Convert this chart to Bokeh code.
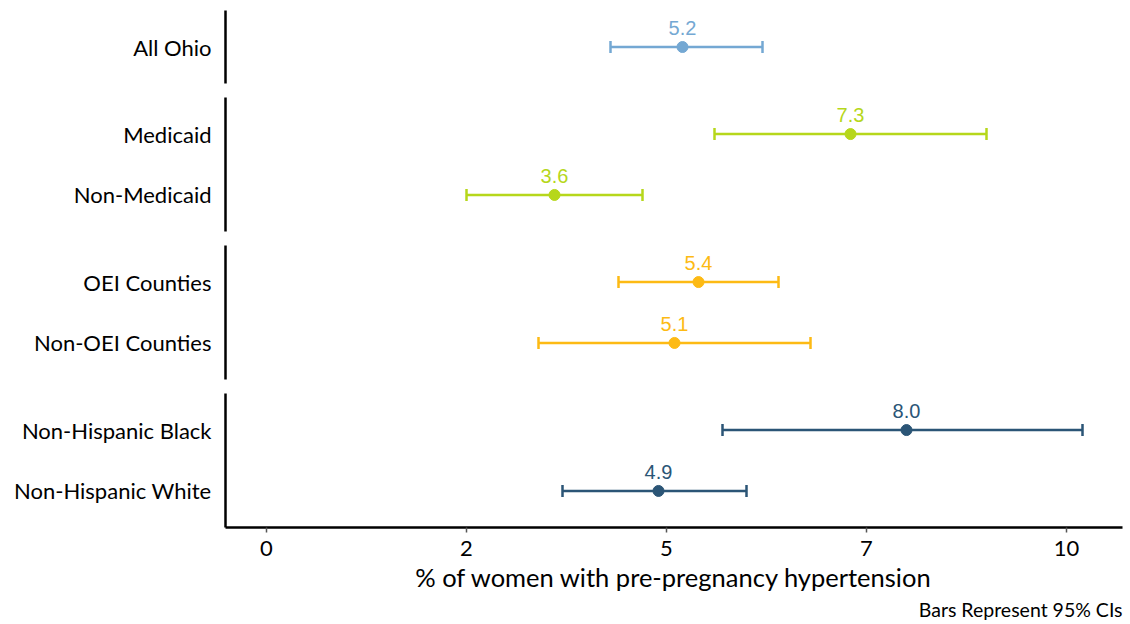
from bokeh.plotting import figure
from bokeh.layouts import column
from bokeh.models import (ColumnDataSource, FactorRange, Range1d, FixedTicker,
                          Whisker, TeeHead, Title)
from bokeh.core.properties import value
from bokeh.embed import file_html
from bokeh.resources import INLINE

# Panels (top to bottom) and their rows (top to bottom)
panels = [
    ["All Ohio"],
    ["Medicaid", "Non-Medicaid"],
    ["OEI Counties", "Non-OEI Counties"],
    ["Non-Hispanic Black", "Non-Hispanic White"],
]
panel_colors = ["#74a8d3", "#b6d71b", "#fdba14", "#2b5576"]

# Estimates and 95% confidence limits, per row
estimates = {
    "All Ohio": 5.2, "Medicaid": 7.3, "Non-Medicaid": 3.6,
    "OEI Counties": 5.4, "Non-OEI Counties": 5.1,
    "Non-Hispanic Black": 8.0, "Non-Hispanic White": 4.9,
}
lower = {
    "All Ohio": 4.3, "Medicaid": 5.6, "Non-Medicaid": 2.5,
    "OEI Counties": 4.4, "Non-OEI Counties": 3.4,
    "Non-Hispanic Black": 5.7, "Non-Hispanic White": 3.7,
}
upper = {
    "All Ohio": 6.2, "Medicaid": 9.0, "Non-Medicaid": 4.7,
    "OEI Counties": 6.4, "Non-OEI Counties": 6.8,
    "Non-Hispanic Black": 10.2, "Non-Hispanic White": 6.0,
}

tick_values = [0, 2.5, 5, 7.5, 10]
tick_labels = ["0", "2", "5", "7", "10"]

x_title = "% of women with pre-pregnancy hypertension"
caption = "Bars Represent 95% CIs"

LABEL_FONT = "Lato"
WIDTH = 1130
x_range = Range1d(-0.5125, 10.7)

figs = []
n = len(panels)
for i, (rows, color) in enumerate(zip(panels, panel_colors)):
    first, last = i == 0, i == n - 1
    frame_h = 73 if len(rows) == 1 else 134
    top = 10 if first else 7
    bottom = 97 if last else 7
    p = figure(
        width=WIDTH, height=top + frame_h + bottom,
        x_range=x_range,
        y_range=FactorRange(factors=list(reversed(rows)), range_padding=0.1,
                            range_padding_units="absolute"),
        x_axis_location="below" if last else None,
        output_backend="svg", toolbar_location=None,
        min_border_left=225, min_border_right=8,
        min_border_top=top, min_border_bottom=bottom,
    )
    p.outline_line_color = None
    p.xgrid.visible = False
    p.ygrid.visible = False
    p.background_fill_color = "white"
    p.border_fill_color = "white"

    yax = p.yaxis[0]
    yax.axis_line_width = 2.5
    yax.axis_line_color = "black"
    yax.major_tick_line_color = None
    yax.minor_tick_line_color = None
    yax.major_label_standoff = 8
    yax.major_label_text_font = LABEL_FONT
    yax.major_label_text_font_size = "22px"
    yax.major_label_text_color = "black"
    yax.major_label_text_baseline = "alphabetic"

    src = ColumnDataSource(dict(
        cat=rows,
        est=[estimates[r] for r in rows],
        lo=[lower[r] for r in rows],
        hi=[upper[r] for r in rows],
        txt=[f"{estimates[r]:.1f}" for r in rows],
    ))

    w = Whisker(
        base="cat", lower="lo", upper="hi", dimension="width", source=src,
        line_color=color, line_width=2.5,
        lower_head=TeeHead(size=12, line_color=color, line_width=2.5),
        upper_head=TeeHead(size=12, line_color=color, line_width=2.5),
    )
    p.add_layout(w)
    p.scatter(x="est", y="cat", source=src, size=11, color=color)
    p.text(x="est", y="cat", text="txt", source=src, text_color=color,
           text_font=value("Liberation Sans"), text_font_size="20px",
           text_align="center", text_baseline="middle", y_offset=-19)

    if last:
        xax = p.xaxis[0]
        xax.ticker = FixedTicker(ticks=tick_values)
        xax.major_label_overrides = dict(zip(tick_values, tick_labels))
        xax.axis_line_width = 2.5
        xax.axis_line_color = "black"
        xax.major_tick_line_color = "#555555"
        xax.major_tick_line_width = 1.5
        xax.major_tick_out = 5
        xax.major_tick_in = 0
        xax.minor_tick_line_color = None
        xax.major_label_standoff = 8
        xax.major_label_text_font = LABEL_FONT
        xax.major_label_text_font_size = "22px"
        xax.major_label_text_color = "black"
        xax.axis_label = x_title
        xax.axis_label_standoff = 3
        xax.axis_label_text_font = LABEL_FONT
        xax.axis_label_text_font_size = "25.5px"
        xax.axis_label_text_font_style = "normal"
        xax.axis_label_text_color = "black"
        p.add_layout(Title(text=caption, align="right", text_font=LABEL_FONT,
                           text_font_size="19.5px", text_font_style="normal",
                           text_color="black", standoff=2), "below")
    figs.append(p)

layout = column(*figs, spacing=0)
open("out.html", "w").write(file_html(layout, INLINE))
